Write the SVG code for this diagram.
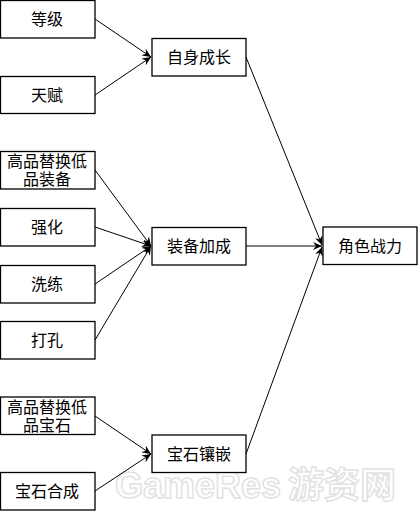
<svg xmlns="http://www.w3.org/2000/svg" width="418" height="511" viewBox="0 0 418 511">
<defs>
<marker id="ah" markerWidth="10" markerHeight="8" refX="9" refY="4" orient="auto" markerUnits="userSpaceOnUse">
<path d="M0,0 L9,4 L0,8 L3,4 Z" fill="#000"/>
</marker>
<style>
.box{fill:#fff;stroke:#000;stroke-width:1.3}
.t{font-family:"Noto Sans CJK SC","Noto Sans CJK JP",sans-serif;font-size:16px;fill:#000;text-anchor:middle}
.c line{stroke:#000;stroke-width:1;marker-end:url(#ah)}
.wm{font-family:"Liberation Sans","Noto Sans CJK SC",sans-serif;font-weight:bold;font-size:36px;fill:#fff;stroke:#e2e2e2;stroke-width:1.5}
</style>
</defs>
<rect width="418" height="511" fill="#fff"/>
<g id="watermark"><text class="wm" x="115" y="498">GameRes</text><text class="wm" x="288" y="498" style="font-family:'Noto Sans CJK SC',sans-serif">游资网</text></g>
<g id="n1"><rect class="box" x="0.5" y="0.5" width="94.5" height="37.5"/><text class="t" x="47" y="25">等级</text></g>
<g id="n2"><rect class="box" x="0.5" y="76.5" width="94.5" height="37"/><text class="t" x="47" y="101">天赋</text></g>
<g id="n3"><rect class="box" x="152" y="38.5" width="94" height="37.5"/><text class="t" x="199" y="63">自身成长</text></g>
<g id="n4"><rect class="box" x="0.5" y="151.5" width="94.5" height="37.5"/><text class="t" x="47" y="167">高品替换低<tspan x="47" dy="18">品装备</tspan></text></g>
<g id="n5"><rect class="box" x="0.5" y="208.5" width="94.5" height="37.5"/><text class="t" x="47" y="233">强化</text></g>
<g id="n6"><rect class="box" x="0.5" y="265.5" width="94.5" height="37.5"/><text class="t" x="47" y="290">洗练</text></g>
<g id="n7"><rect class="box" x="0.5" y="321.5" width="94.5" height="37.5"/><text class="t" x="47" y="346">打孔</text></g>
<g id="n8"><rect class="box" x="152" y="227.5" width="94" height="37.5"/><text class="t" x="199" y="252">装备加成</text></g>
<g id="n9"><rect class="box" x="323" y="227" width="94" height="37.5"/><text class="t" x="370" y="252">角色战力</text></g>
<g id="n10"><rect class="box" x="0.5" y="397" width="94.5" height="37.5"/><text class="t" x="47" y="413">高品替换低<tspan x="47" dy="18">品宝石</tspan></text></g>
<g id="n11"><rect class="box" x="0.5" y="472.5" width="94.5" height="37.5"/><text class="t" x="47" y="497">宝石合成</text></g>
<g id="n12"><rect class="box" x="152" y="435" width="94" height="37.5"/><text class="t" x="199" y="460">宝石镶嵌</text></g>
<g class="c" id="connectors">
<line x1="95" y1="19" x2="151" y2="57"/>
<line x1="95" y1="95" x2="151" y2="57"/>
<line x1="95" y1="170" x2="151" y2="246"/>
<line x1="95" y1="227" x2="151" y2="246"/>
<line x1="95" y1="284" x2="151" y2="246"/>
<line x1="95" y1="340" x2="151" y2="246"/>
<line x1="95" y1="416" x2="151" y2="454"/>
<line x1="95" y1="491" x2="151" y2="454"/>
<line x1="246" y1="57" x2="322" y2="245"/>
<line x1="246" y1="246" x2="322" y2="246"/>
<line x1="246" y1="454" x2="322" y2="247"/>
</g>
</svg>
